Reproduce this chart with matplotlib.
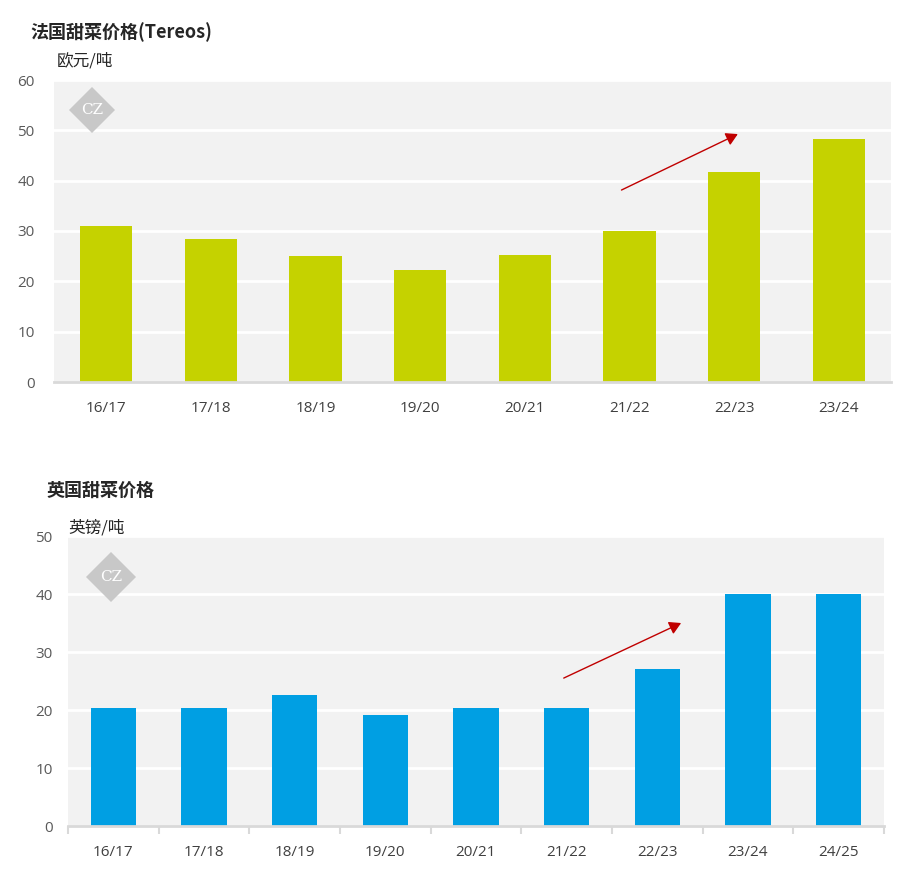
import matplotlib
matplotlib.use("Agg")
import matplotlib.pyplot as plt
from matplotlib.patches import Polygon
import numpy as np

plt.rcParams['font.family'] = ['Noto Sans CJK SC', 'DejaVu Sans']

fr_title = "法国甜菜价格(Tereos)"
fr_unit = "欧元/吨"
fr_cats = ["16/17", "17/18", "18/19", "19/20", "20/21", "21/22", "22/23", "23/24"]
fr_vals = [31.0, 28.4, 25.0, 22.3, 25.2, 30.0, 41.7, 48.3]
fr_yticks = [0, 10, 20, 30, 40, 50, 60]

uk_title = "英国甜菜价格"
uk_unit = "英镑/吨"
uk_cats = ["16/17", "17/18", "18/19", "19/20", "20/21", "21/22", "22/23", "23/24", "24/25"]
uk_vals = [20.3, 20.3, 22.6, 19.1, 20.3, 20.3, 27.1, 40.0, 40.0]
uk_yticks = [0, 10, 20, 30, 40, 50]

fr_arrow = [(4.9, 37.9), (6.06, 49.5)]
uk_arrow = [(4.94, 25.3), (6.29, 35.2)]

W, H = 924, 876
fig = plt.figure(figsize=(W / 100, H / 100), dpi=100)

def px_axes(l, t, r, b):
    return fig.add_axes([l / W, 1 - b / H, (r - l) / W, (b - t) / H])

def style(ax, cats, vals, yticks, color, ticks_below, arrow, pad):
    x = np.arange(len(cats))
    ax.set_facecolor('#F2F2F2')
    ax.bar(x, vals, width=0.5, color=color, zorder=3)
    ax.set_xlim(-0.5, len(cats) - 0.5)
    ax.set_ylim(yticks[0], yticks[-1])
    ax.set_yticks(yticks)
    ax.set_yticklabels([str(v) for v in yticks], family='Open Sans')
    ax.yaxis.grid(True, color='white', linewidth=2, zorder=1)
    ax.set_axisbelow(True)
    for s in ['top', 'right', 'left']:
        ax.spines[s].set_visible(False)
    ax.spines['bottom'].set_color('#D9D9D9')
    ax.spines['bottom'].set_linewidth(2)
    ax.spines['bottom'].set_zorder(4)
    ax.tick_params(axis='y', length=0, pad=pad, labelsize=11, labelcolor='#595959')
    ax.set_xticks(x)
    ax.set_xticklabels(cats, family='Open Sans')
    ax.tick_params(axis='x', length=0, pad=14, labelsize=11, labelcolor='#404040')
    if ticks_below:
        ax.set_xticks(np.arange(len(cats) + 1) - 0.5, minor=True)
        ax.tick_params(axis='x', which='minor', length=6, width=1.5, color='#D9D9D9', direction='out')
    ax.annotate('', xy=arrow[1], xytext=arrow[0],
                arrowprops=dict(arrowstyle='-|>,head_length=0.7,head_width=0.4',
                                color='#C00000', lw=1.0), zorder=5)

def logo(cx, cy, r):
    pts = [(cx, cy - r), (cx + r, cy), (cx, cy + r), (cx - r, cy)]
    pts = [(px / W, 1 - py / H) for px, py in pts]
    fig.patches.append(Polygon(pts, closed=True, transform=fig.transFigure,
                               facecolor='#C8C8C8', edgecolor='none', zorder=10))
    fig.text(cx / W, 1 - cy / H, 'CZ', fontsize=11, color='white',
             family='DejaVu Serif', ha='center', va='center', zorder=11)

ax1 = px_axes(54, 80, 891, 382)
style(ax1, fr_cats, fr_vals, fr_yticks, '#C5D200', False, fr_arrow, 14)
ax2 = px_axes(68, 536, 884, 826)
style(ax2, uk_cats, uk_vals, uk_yticks, '#009FE3', True, uk_arrow, 11)

fig.text(30 / W, 1 - 32 / H, fr_title, fontsize=13, fontweight='bold', color='#262626', va='center')
fig.text(57 / W, 1 - 61 / H, fr_unit, fontsize=12, color='#262626', va='center')
fig.text(47 / W, 1 - 490 / H, uk_title, fontsize=13, fontweight='bold', color='#262626', va='center')
fig.text(68 / W, 1 - 528 / H, uk_unit, fontsize=12, color='#262626', va='center')

logo(92, 110, 23)
logo(111, 577, 25)

fig.savefig('out.png', dpi=100)
